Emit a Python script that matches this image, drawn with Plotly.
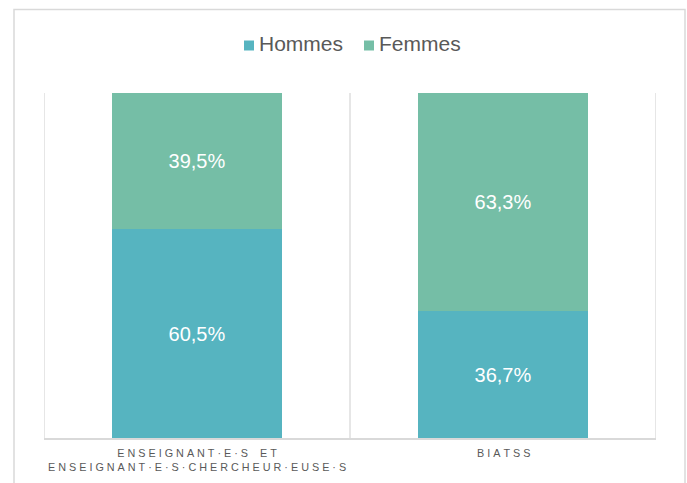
import plotly.graph_objects as go

categories = ["ENSEIGNANT·E·S ET ENSEIGNANT·E·S·CHERCHEUR·EUSE·S", "BIATSS"]
tick_labels = [["ENSEIGNANT·E·S ET", "ENSEIGNANT·E·S·CHERCHEUR·EUSE·S"], ["BIATSS"]]
series_names = ["Hommes", "Femmes"]
hommes = [60.5, 36.7]
femmes = [39.5, 63.3]

C_H = "#56B4C0"
C_F = "#75BEA6"
GRID = "#D9D9D9"
TXT = "#595959"
NB = "\u00a0"
FONT = "Liberation Sans, Arial"

W, H = 687, 483
# plot area in page pixels
PX0, PX1, PY0, PY1 = 44, 656, 93, 438
PW, PH = PX1 - PX0, PY1 - PY0


def px(x):
    return (x - PX0) / PW


def py(y):
    return (PY1 - y) / PH


def spaced(s):
    return NB.join(NB * 2 if ch == " " else ch for ch in s)


def fmt(v):
    return f"{v:.1f}".replace(".", ",") + "%"


x_idx = list(range(len(categories)))

fig = go.Figure()
for name, vals, col in [(series_names[0], hommes, C_H), (series_names[1], femmes, C_F)]:
    fig.add_trace(go.Bar(name=name, x=x_idx, y=vals, marker_color=col,
                         text=[fmt(v) for v in vals], textposition="inside",
                         insidetextanchor="middle", textangle=0,
                         textfont=dict(color="white", size=20, family=FONT),
                         width=0.556, marker_line_width=0, showlegend=False,
                         hoverinfo="skip"))

shapes = []
for xv in [-0.5, 0.5, 1.5]:
    shapes.append(dict(type="line", xref="x", yref="y", x0=xv, x1=xv, y0=0, y1=100,
                       line=dict(color=GRID, width=1.3), layer="below"))
# outer chart border
shapes.append(dict(type="rect", xref="paper", yref="paper",
                   x0=px(14), x1=px(685), y0=py(495), y1=py(9.5),
                   line=dict(color=GRID, width=1.5), fillcolor="rgba(0,0,0,0)", layer="below"))

annotations = []
for i, lines in enumerate(tick_labels):
    annotations.append(dict(xref="x", yref="paper", x=i, y=0, yanchor="top", yshift=-7,
                            showarrow=False, align="center",
                            text="<br>".join(spaced(l) for l in lines),
                            font=dict(size=10.8, color=TXT, family=FONT)))

# manual legend
legend_items = [(series_names[0], C_H, 244), (series_names[1], C_F, 364)]
for name, col, x0 in legend_items:
    shapes.append(dict(type="rect", xref="paper", yref="paper",
                       x0=px(x0), x1=px(x0 + 10), y0=py(50.5), y1=py(40.5),
                       line=dict(width=0), fillcolor=col))
    annotations.append(dict(xref="paper", yref="paper", x=px(x0 + 13), y=py(43.5),
                            xanchor="left", yanchor="middle", showarrow=False,
                            text=name, font=dict(size=21, color=TXT, family=FONT)))

fig.update_layout(
    width=W, height=H,
    margin=dict(l=PX0, r=W - PX1, t=PY0, b=H - PY1),
    paper_bgcolor="white", plot_bgcolor="white",
    barmode="stack",
    font=dict(family=FONT, color=TXT),
    xaxis=dict(range=[-0.5, 1.5], showticklabels=False, showgrid=False, zeroline=False,
               showline=True, linecolor=GRID, linewidth=1.5, ticks="", fixedrange=True),
    yaxis=dict(range=[0, 100], visible=False, fixedrange=True),
    shapes=shapes,
    annotations=annotations,
    showlegend=False,
    hovermode=False,
)

fig.write_html("out.html", config={"displayModeBar": False},
               post_script="document.body.style.margin='0';document.body.style.overflow='hidden';")
